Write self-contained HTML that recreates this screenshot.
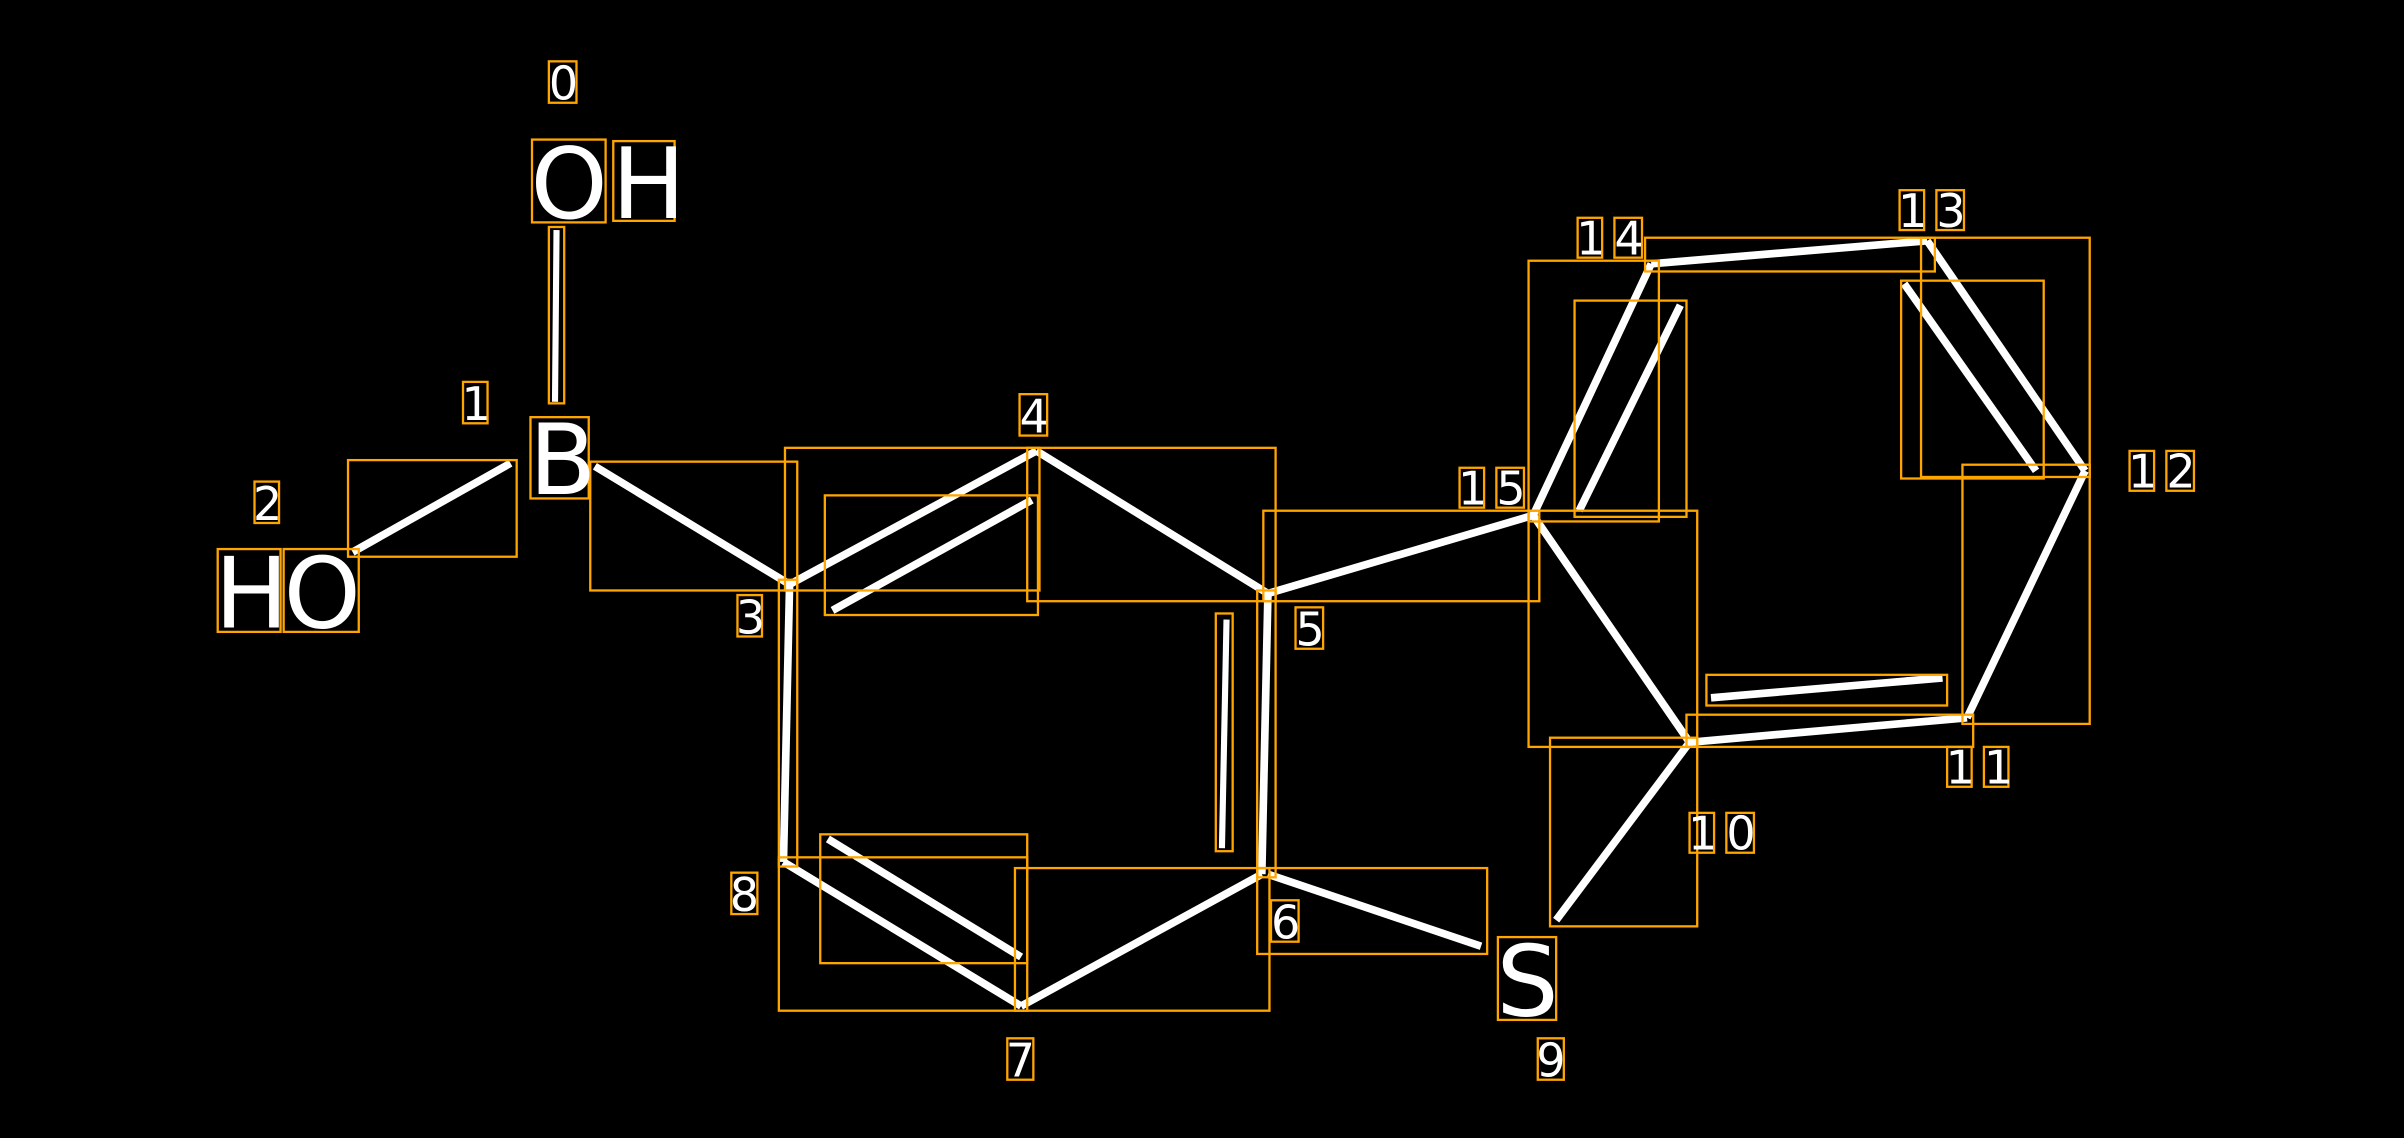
<!DOCTYPE html>
<html><head><meta charset="utf-8"><style>
html,body{margin:0;padding:0;background:#000;width:2404px;height:1138px;overflow:hidden}
svg{display:block}
text{font-family:"DejaVu Sans","Liberation Sans",sans-serif;fill:#fff}
</style></head><body>
<svg width="2404" height="1138" viewBox="0 0 1568 742" preserveAspectRatio="none">
<rect width="1568" height="742" fill="#000"/>
<g stroke="#fff" stroke-width="5" stroke-linecap="butt" fill="none">
<line x1="363" y1="150" x2="362" y2="262" stroke-width="4"/>
<line x1="333" y1="302" x2="230" y2="360"/>
<line x1="388" y1="304" x2="515" y2="381"/>
<line x1="515" y1="381" x2="676" y2="294"/>
<line x1="543" y1="398" x2="673" y2="326"/>
<line x1="676" y1="294" x2="827" y2="387"/>
<line x1="827" y1="387" x2="1000" y2="336"/>
<line x1="515" y1="381" x2="511" y2="562"/>
<line x1="827" y1="387" x2="823" y2="570"/>
<line x1="800" y1="404" x2="797" y2="553" stroke-width="4"/>
<line x1="511" y1="562" x2="666" y2="656"/>
<line x1="540" y1="547" x2="666" y2="624"/>
<line x1="666" y1="656" x2="823" y2="570"/>
<line x1="827" y1="570" x2="966" y2="617"/>
<line x1="1000" y1="336" x2="1077" y2="172"/>
<line x1="1030" y1="333" x2="1096" y2="199"/>
<line x1="1077" y1="172" x2="1257" y2="157"/>
<line x1="1257" y1="157" x2="1360" y2="307"/>
<line x1="1242" y1="185" x2="1328" y2="307"/>
<line x1="1360" y1="307" x2="1283" y2="468"/>
<line x1="1283" y1="468" x2="1102" y2="484"/>
<line x1="1116" y1="455" x2="1267" y2="442"/>
<line x1="1102" y1="484" x2="1000" y2="336"/>
<line x1="1102" y1="484" x2="1015" y2="600"/>
</g>
<g stroke="#FFA500" stroke-width="1.5" fill="none">
<rect x="358" y="148" width="10" height="115"/>
<rect x="227" y="300" width="110" height="63"/>
<rect x="385" y="301" width="135" height="84"/>
<rect x="512" y="292" width="166" height="93"/>
<rect x="538" y="323" width="139" height="78"/>
<rect x="670" y="292" width="162" height="100"/>
<rect x="824" y="333" width="180" height="59"/>
<rect x="508" y="378" width="12" height="187"/>
<rect x="820" y="385" width="12" height="187"/>
<rect x="793" y="400" width="11" height="155"/>
<rect x="508" y="559" width="162" height="100"/>
<rect x="535" y="544" width="135" height="84"/>
<rect x="662" y="566" width="166" height="93"/>
<rect x="820" y="566" width="150" height="56"/>
<rect x="997" y="170" width="85" height="170"/>
<rect x="1027" y="196" width="73" height="141"/>
<rect x="1073" y="155" width="189" height="22"/>
<rect x="1253" y="155" width="110" height="156"/>
<rect x="1240" y="183" width="93" height="129"/>
<rect x="1280" y="303" width="83" height="169"/>
<rect x="1100" y="466" width="187" height="21"/>
<rect x="1113" y="440" width="157" height="20"/>
<rect x="997" y="333" width="110" height="154"/>
<rect x="1011" y="481" width="96" height="123"/>
<rect x="347" y="91" width="48" height="54"/>
<rect x="400" y="92" width="40" height="52"/>
<rect x="346" y="272" width="38" height="53"/>
<rect x="142" y="358" width="41" height="54"/>
<rect x="185" y="358" width="49" height="54"/>
<rect x="977" y="611" width="38" height="54"/>
<rect x="358" y="40" width="18" height="27"/>
<rect x="302" y="249" width="16" height="27"/>
<rect x="166" y="314" width="16" height="27"/>
<rect x="481" y="388" width="16" height="27"/>
<rect x="665" y="257" width="18" height="27"/>
<rect x="845" y="396" width="18" height="27"/>
<rect x="829" y="587" width="18" height="27"/>
<rect x="657" y="677" width="17" height="27"/>
<rect x="477" y="569" width="17" height="27"/>
<rect x="1003" y="677" width="17" height="27"/>
<rect x="1102" y="530" width="16" height="26"/>
<rect x="1126" y="530" width="18" height="26"/>
<rect x="1270" y="487" width="16" height="26"/>
<rect x="1294" y="487" width="16" height="26"/>
<rect x="1389" y="294" width="16" height="26"/>
<rect x="1413" y="294" width="18" height="26"/>
<rect x="1239" y="124" width="16" height="26"/>
<rect x="1263" y="124" width="18" height="26"/>
<rect x="1029" y="142" width="16" height="26"/>
<rect x="1053" y="142" width="18" height="26"/>
<rect x="952" y="305" width="16" height="26"/>
<rect x="976" y="305" width="18" height="26"/>
</g>
<g font-size="64">
<text x="346" y="142">O</text><text x="399" y="142">H</text>
<text x="345" y="322">B</text>
<text x="140" y="409">H</text><text x="185" y="409">O</text>
<text x="976" y="662">S</text>
</g>
<g font-size="30">
<text x="358" y="65">0</text>
<text x="301" y="274">1</text>
<text x="165" y="339">2</text>
<text x="480" y="413">3</text>
<text x="665" y="282">4</text>
<text x="845" y="421">5</text>
<text x="829" y="612">6</text>
<text x="656" y="702">7</text>
<text x="476" y="594">8</text>
<text x="1002" y="702">9</text>
<text x="1101" y="554">1</text><text x="1126" y="554">0</text>
<text x="1269" y="511">1</text><text x="1294" y="511">1</text>
<text x="1388" y="318">1</text><text x="1413" y="318">2</text>
<text x="1238" y="148">1</text><text x="1263" y="148">3</text>
<text x="1028" y="166">1</text><text x="1053" y="166">4</text>
<text x="951" y="329">1</text><text x="976" y="329">5</text>
</g>
</svg>
</body></html>
